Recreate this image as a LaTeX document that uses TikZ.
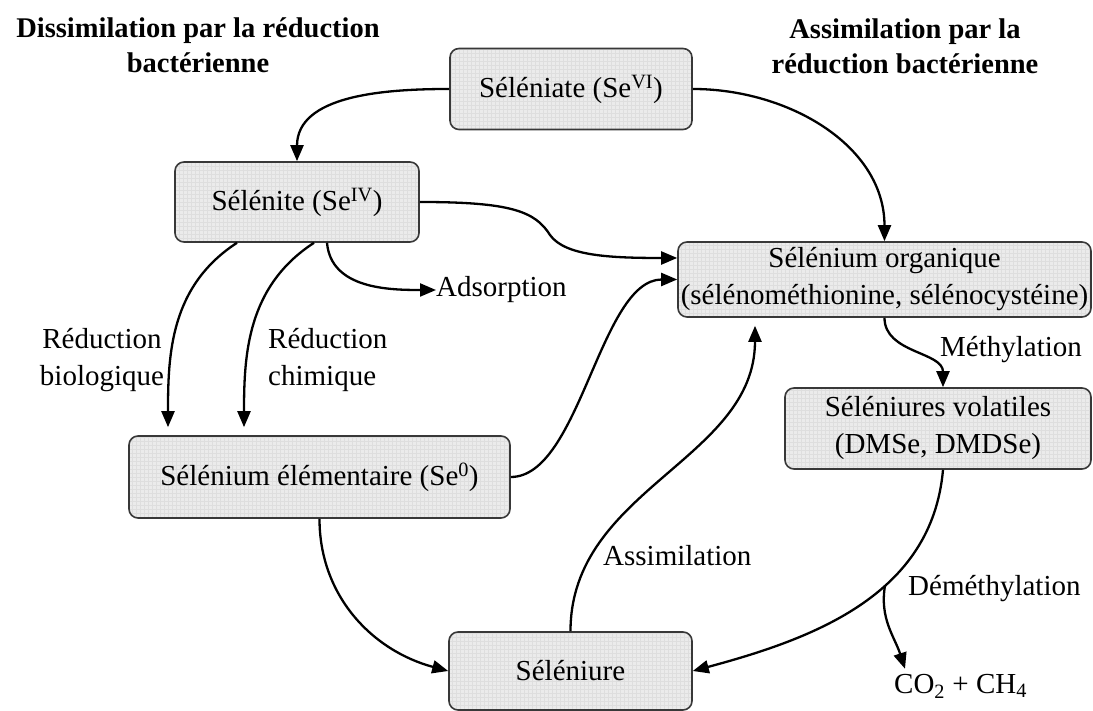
\documentclass[tikz,border=0pt]{standalone}
\usepackage{fontspec}
\setmainfont{Liberation Serif}
\usetikzlibrary{arrows.meta,calc}
\begin{document}
\begin{tikzpicture}[x=1pt,y=1pt,
  every node/.style={font=\fontsize{29}{37}\selectfont},
  box/.style={draw=black!78, line width=1.6pt, rounded corners=9pt, fill=black!8,
    align=center, inner sep=0pt,
    path picture={\draw[black!13, line width=0.3pt, step=4pt]
      (path picture bounding box.south west) grid (path picture bounding box.north east);}},
  lbl/.style={inner sep=0pt, align=center},
  ttl/.style={inner sep=0pt, align=center, font=\fontsize{28.5}{35}\selectfont\bfseries},
  arr/.style={line width=2.3pt, -{Triangle[length=16pt,width=13pt]}}
]
\useasboundingbox (0,0) rectangle (1093,711);

% boxes
\node[box, minimum width=242pt, minimum height=81pt] (seleniate) at (571,622) {Séléniate (Se\textsuperscript{VI})};
\node[box, minimum width=244pt, minimum height=80pt] (selenite) at (297,509) {Sélénite (Se\textsuperscript{IV})};
\node[box, minimum width=413pt, minimum height=75pt] (organique) at (884.5,431.5) {Sélénium organique\\(sélénométhionine, sélénocystéine)};
\node[box, minimum width=306pt, minimum height=81pt] (volatiles) at (938,282.5) {Séléniures volatiles\\(DMSe, DMDSe)};
\node[box, minimum width=381pt, minimum height=82pt] (elementaire) at (319.5,234) {Sélénium élémentaire (Se\textsuperscript{0})};
\node[box, minimum width=243pt, minimum height=78pt] (seleniure) at (570.5,40) {Séléniure};

% titles
\node[ttl] (t1) at (198,666) {Dissimilation par la réduction\\bactérienne};
\node[ttl] (t2) at (905,665) {Assimilation par la\\réduction bactérienne};

% labels
\node[lbl, anchor=west] (ads) at (436,421) {Adsorption};
\node[lbl] (rbio) at (102,351) {Réduction\\biologique};
\node[lbl, anchor=west, align=left] (rchi) at (268,351) {Réduction\\chimique};
\node[lbl, anchor=west] (meth) at (940,361) {Méthylation};
\node[lbl, anchor=west] (assim) at (603,155) {Assimilation};
\node[lbl, anchor=west] (demeth) at (908,122) {Déméthylation};
\node[lbl, anchor=west] (co2) at (894,25) {CO\textsubscript{2} + CH\textsubscript{4}};

% connectors
\draw[arr] (seleniate.west) to[out=180,in=90] (selenite.north);
\draw[arr] (seleniate.east) to[out=0,in=90] (organique.north);
\draw[arr] (selenite.east) .. controls (510,509) and (535,500) .. (550,476)
  .. controls (565,455) and (610,453) .. ($(organique.west)+(0,21.5)$);
\draw[arr] (elementaire.east) .. controls (580,234) and (600,431.5) .. (organique.west);
\draw[arr, shorten >=8pt] ($(selenite.south)+(-60,0)$) to[out=-147,in=90] ($(elementaire.north)+(-151.5,0)$);
\draw[arr, shorten >=8pt] ($(selenite.south)+(17,0)$) to[out=-147,in=90] ($(elementaire.north)+(-75.5,0)$);
\draw[arr] ($(selenite.south)+(30,0)$) to[out=-85,in=180] (ads.west);
\draw[arr] (elementaire.south) to[out=-90,in=165] (seleniure.west);
\draw[arr, shorten >=8pt] (seleniure.north) to[out=90,in=-90] ($(organique.south)+(-129.5,0)$);
\draw[arr] (organique.south) to[out=-90,in=90] ($(volatiles.north)+(5,0)$);
\draw[arr] ($(volatiles.south)+(5,0)$) to[out=-95,in=15] coordinate[pos=0.4] (br) (seleniure.east);
\draw[arr] (br) to[out=-100,in=108] ([xshift=11pt,yshift=5pt]co2.north west);
\end{tikzpicture}
\end{document}
